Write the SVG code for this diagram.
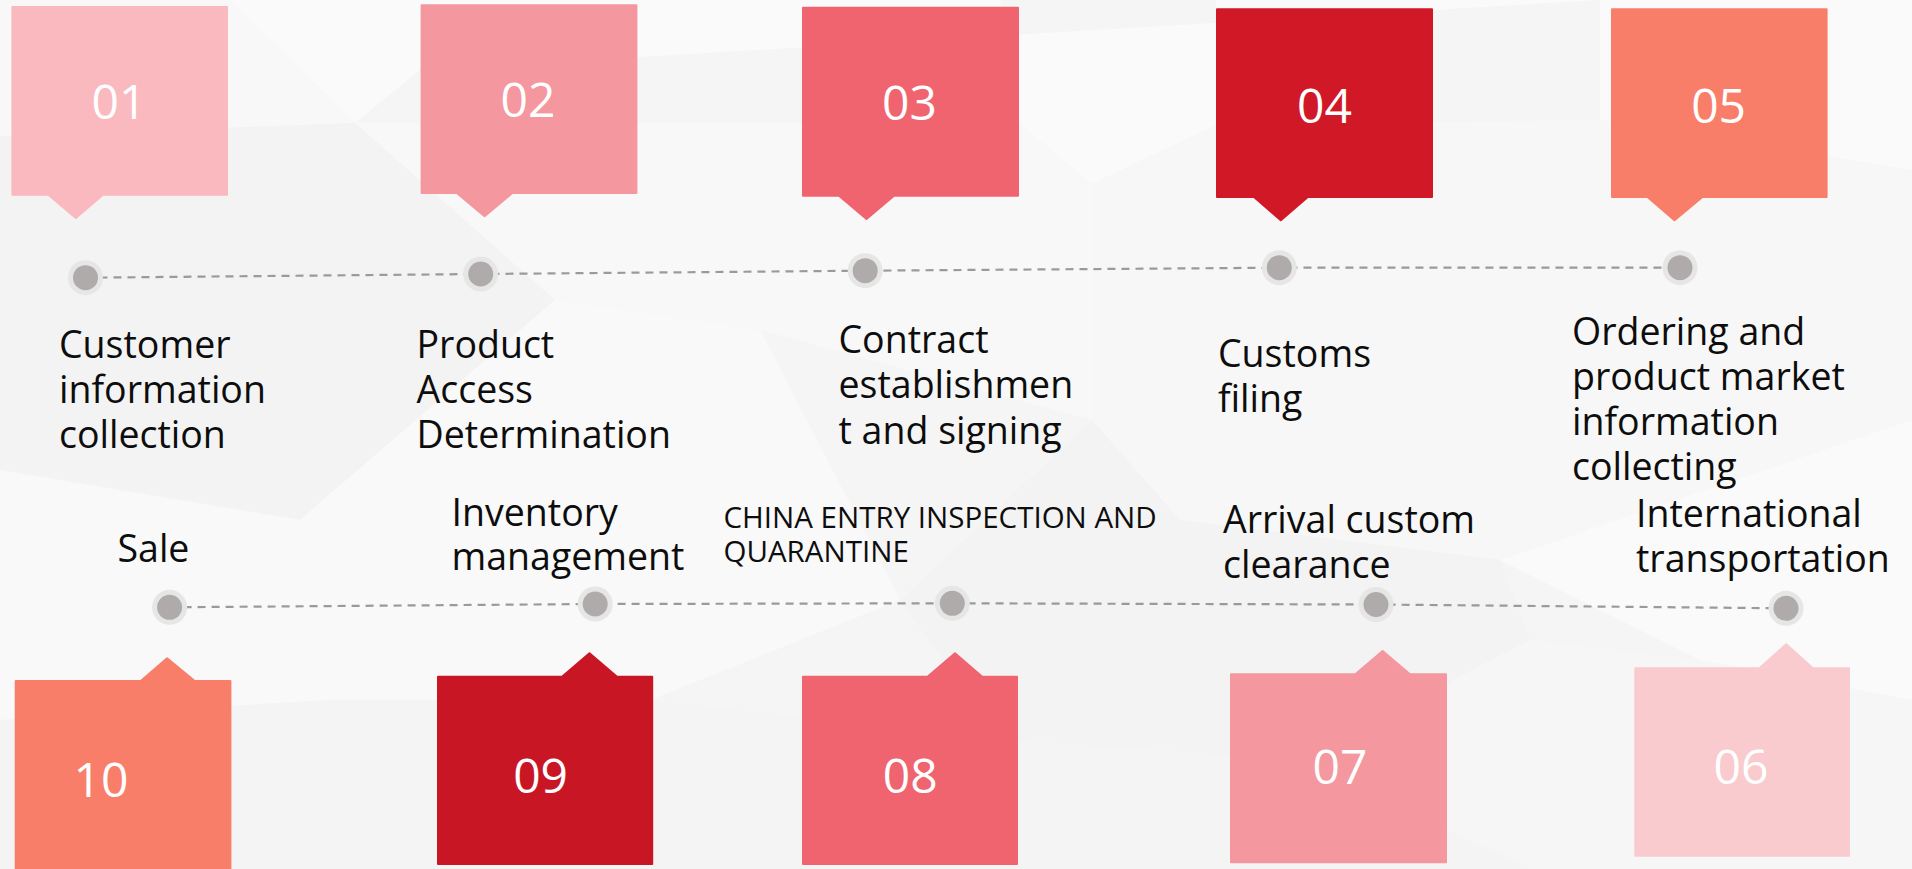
<svg xmlns="http://www.w3.org/2000/svg" width="1912" height="869" viewBox="0 0 1912 869">
<defs>
<style>
.lbl{font-family:"Open Sans","Noto Sans","Liberation Sans",sans-serif;font-size:37.5px;fill:#0d0d0d}
.sm{font-size:29.5px}
.num{font-family:"Open Sans","Noto Sans","Liberation Sans",sans-serif;font-size:48px;fill:#ffffff;text-anchor:middle}
.box{stroke-width:2;stroke-linejoin:round}
.ring{fill:#e7e6e6}
.dot{fill:#afabab}
.dash{fill:none;stroke:#9a9a9a;stroke-width:2.2;stroke-dasharray:8 6}
</style>
</defs>
<g id="background">
<rect x="0" y="0" width="1912" height="869" fill="#f5f5f6"/>
<polygon points="230,0 760,0 420,70 355,123" fill="#fafafa"/>
<polygon points="0,0 230,0 355,123 0,136" fill="#f8f8f8"/>
<polygon points="420,70 760,0 1000,0 1019,123 1092,184 1216,125 1216,0 1600,0 1600,120 1912,170 1912,0 1600,0" fill="#fafafa"/>
<polygon points="355,123 1019,123 1092,184 1092,420 760,330 555,300" fill="#f8f8f8"/>
<polygon points="0,136 355,123 555,300 300,520 0,470" fill="#f3f3f4"/>
<polygon points="1092,184 1216,125 1600,120 1912,170 1912,420 1500,560 1180,520 1092,420" fill="#f7f7f7"/>
<polygon points="0,470 300,520 555,300 760,330 900,600 650,700 330,700 0,720" fill="#f9f9f9"/>
<polygon points="900,600 1092,420 1180,520 1500,560 1530,640 1300,760 1000,740" fill="#f3f3f4"/>
<polygon points="1500,560 1912,420 1912,700 1700,660" fill="#fafafa"/>
<polygon points="0,720 330,700 650,700 1000,740 1300,760 1530,869 0,869" fill="#f4f4f5"/>
<polygon points="1530,640 1700,660 1912,700 1912,869 1530,869 1300,760" fill="#f6f6f7"/>
</g>
<g id="connectors">
<polyline class="dash" points="85.5,277.7 480.7,274 865.2,270.7 1279.3,267.7 1680,267.7"/>
<polyline class="dash" points="169.6,607.3 595.2,604 952.3,603.3 1376,604.5 1786,608.3"/>
</g>
<g id="node-01">
<path class="box" fill="#f9b9be" stroke="#f9b9be" d="M12.4 7H227V194.7H103L75.8 218L48.4 194.7H12.4Z"/>
<text class="num" x="119" y="119">01</text>
<circle class="ring" cx="85.5" cy="277.7" r="17.5"/><circle class="dot" cx="85.5" cy="277.7" r="12.5"/>
<text class="lbl" x="59" y="358.3"><tspan x="59">Customer</tspan><tspan x="59" dy="45">information</tspan><tspan x="59" dy="45">collection</tspan></text>
</g>
<g id="node-02">
<path class="box" fill="#f4979e" stroke="#f4979e" d="M421.6 5.3H636.4V193H512.4L484.6 216.3L456.8 193H421.6Z"/>
<text class="num" x="528" y="117.3">02</text>
<circle class="ring" cx="480.7" cy="274" r="17.5"/><circle class="dot" cx="480.7" cy="274" r="12.5"/>
<text class="lbl" x="416.5" y="358.3"><tspan x="416.5">Product</tspan><tspan x="416.5" dy="45">Access</tspan><tspan x="416.5" dy="45">Determination</tspan></text>
</g>
<g id="node-03">
<path class="box" fill="#f0646f" stroke="#f0646f" d="M803 7.7H1018V195.7H894L866.5 219L839 195.7H803Z"/>
<text class="num" x="909.4" y="120">03</text>
<circle class="ring" cx="865.2" cy="270.7" r="17.5"/><circle class="dot" cx="865.2" cy="270.7" r="12.5"/>
<text class="lbl" x="838.5" y="353.3"><tspan x="838.5">Contract</tspan><tspan x="838.5" dy="45">establishmen</tspan><tspan x="838.5" dy="45.5">t and signing</tspan></text>
</g>
<g id="node-04">
<path class="box" fill="#d11827" stroke="#d11827" d="M1217 9.3H1432V197H1307.8L1280.8 220.3L1254 197H1217Z"/>
<text class="num" x="1324.5" y="122.7">04</text>
<circle class="ring" cx="1279.3" cy="267.7" r="17.5"/><circle class="dot" cx="1279.3" cy="267.7" r="12.5"/>
<text class="lbl" x="1218" y="366.7"><tspan x="1218">Customs</tspan><tspan x="1218" dy="45">filing</tspan></text>
</g>
<g id="node-05">
<path class="box" fill="#f97e6a" stroke="#f97e6a" d="M1612 9.3H1826.6V197H1702.4L1674.5 220.3L1647.5 197H1612Z"/>
<text class="num" x="1718.6" y="122.7">05</text>
<circle class="ring" cx="1680" cy="267.7" r="17.5"/><circle class="dot" cx="1680" cy="267.7" r="12.5"/>
<text class="lbl" x="1572" y="345"><tspan x="1572">Ordering and</tspan><tspan x="1572" dy="45">product market</tspan><tspan x="1572" dy="45">information</tspan><tspan x="1572" dy="45">collecting</tspan></text>
</g>
<g id="node-06">
<path class="box" fill="#f9cace" stroke="#f9cace" d="M1635.3 668.3H1759.5L1786.2 644.3L1812.9 668.3H1849V855.7H1635.3Z"/>
<text class="num" x="1741" y="784.3">06</text>
<circle class="ring" cx="1786" cy="608.3" r="17.5"/><circle class="dot" cx="1786" cy="608.3" r="12.5"/>
<text class="lbl" x="1636" y="526.7"><tspan x="1636">International</tspan><tspan x="1636" dy="45">transportation</tspan></text>
</g>
<g id="node-07">
<path class="box" fill="#f4979e" stroke="#f4979e" d="M1231 674.3H1355.3L1382.6 651L1410 674.3H1446V862.3H1231Z"/>
<text class="num" x="1339.9" y="784.3">07</text>
<circle class="ring" cx="1376" cy="604.5" r="17.5"/><circle class="dot" cx="1376" cy="604.5" r="12.5"/>
<text class="lbl" x="1223" y="533.3"><tspan x="1223">Arrival custom</tspan><tspan x="1223" dy="45">clearance</tspan></text>
</g>
<g id="node-08">
<path class="box" fill="#f0646f" stroke="#f0646f" d="M803 676.7H927.5L955 653.3L982.2 676.7H1017V864H803Z"/>
<text class="num" x="910.3" y="792.7">08</text>
<circle class="ring" cx="952.3" cy="603.3" r="17.5"/><circle class="dot" cx="952.3" cy="603.3" r="12.5"/>
<text class="lbl sm" x="723.5" y="528.3"><tspan x="723.5">CHINA ENTRY INSPECTION AND</tspan><tspan x="723.5" dy="33.4">QUARANTINE</tspan></text>
</g>
<g id="node-09">
<path class="box" fill="#c81624" stroke="#c81624" d="M438 676.7H562L589.5 653.3L617 676.7H652.2V864H438Z"/>
<text class="num" x="540.6" y="792.7">09</text>
<circle class="ring" cx="595.2" cy="604" r="17.5"/><circle class="dot" cx="595.2" cy="604" r="12.5"/>
<text class="lbl" x="451.5" y="526"><tspan x="451.5">Inventory</tspan><tspan x="451.5" dy="44">management</tspan></text>
</g>
<g id="node-10">
<path class="box" fill="#f97e6a" stroke="#f97e6a" d="M15.7 681H140.8L167.1 658.3L194.7 681H230.4V880H15.7Z"/>
<text class="num" x="101" y="796.7">10</text>
<circle class="ring" cx="169.6" cy="607.3" r="17.5"/><circle class="dot" cx="169.6" cy="607.3" r="12.5"/>
<text class="lbl" x="117.5" y="562.3">Sale</text>
</g>
</svg>
